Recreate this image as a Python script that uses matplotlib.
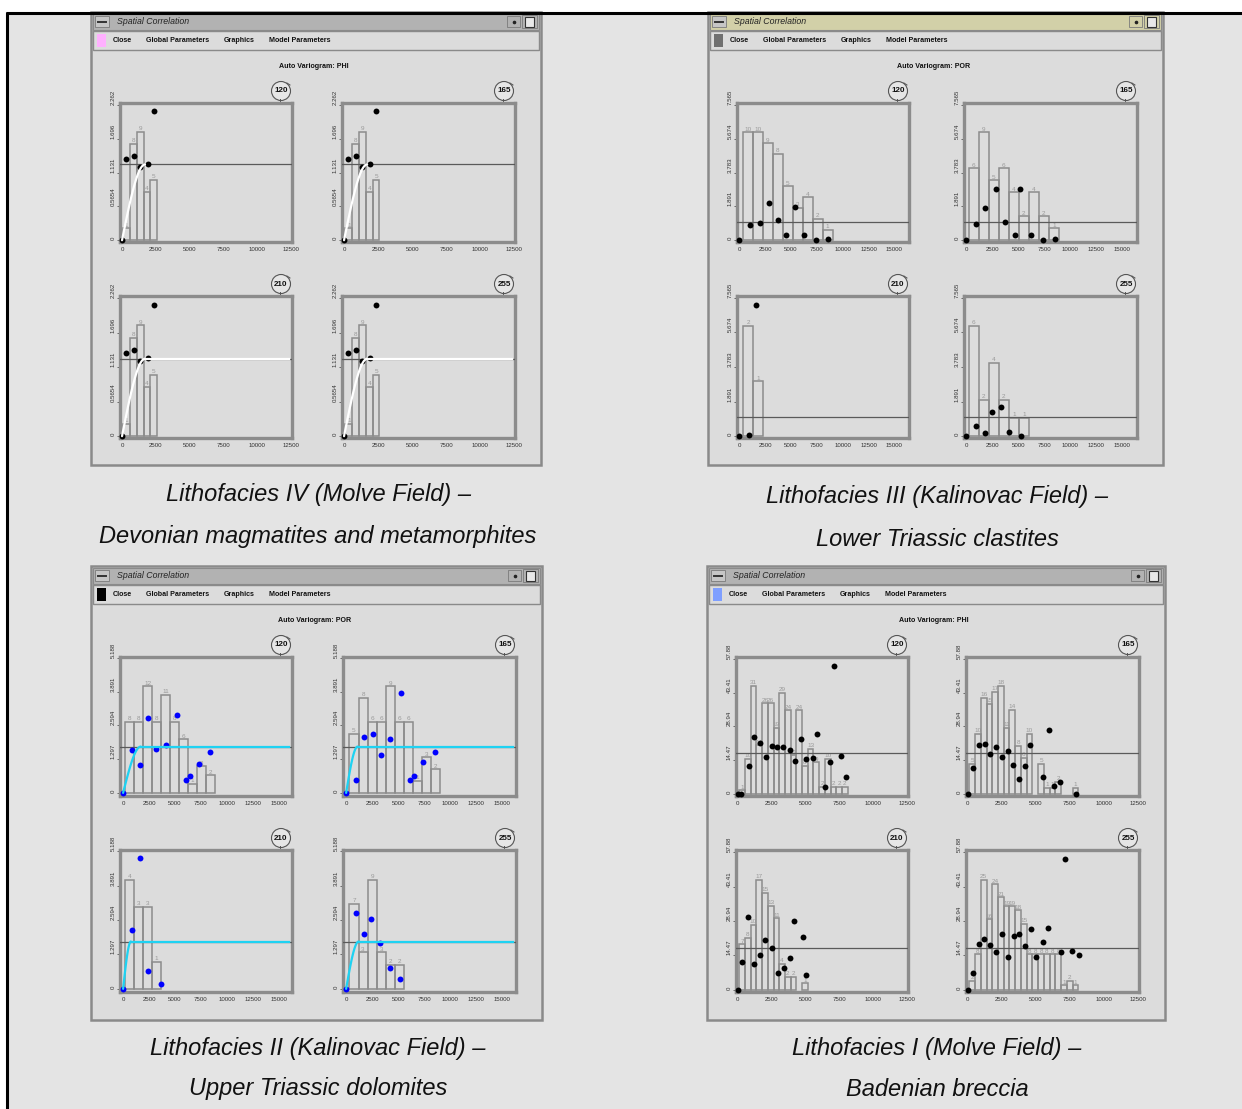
import matplotlib.pyplot as plt
from matplotlib.patches import Rectangle, Circle
import numpy as np

plt.rcParams['font.family'] = ['Liberation Sans', 'DejaVu Sans']

W, H = 1242, 1109

menu_items = ['Close', 'Global Parameters', 'Graphics', 'Model Parameters']
menu_x = [31.5, 86.5, 148.5, 209]
directions = ['120', '165', '210', '255']

# ---------------- Lithofacies IV (Molve Field), PHI -----------------
iv_yticks = [0, 0.5654, 1.131, 1.696, 2.262]
iv_ylabels = ['0', '0.5654', '1.131', '1.696', '2.262']
iv_xticks = [0, 2500, 5000, 7500, 10000, 12500]
iv_counts = [1, 8, 9, 4, 5]
iv_px = [0, 270, 880, 1300, 1910, 2350]
iv_py = [0, 1.36, 1.41, 1.23, 1.28, 2.16]
iv_bar_max = 1.82
iv_sill = 1.27
iv_range = 1700

# ---------------- Lithofacies III (Kalinovac Field), POR ------------
iii_yticks = [0, 1.891, 3.783, 5.674, 7.565]
iii_ylabels = ['0', '1.891', '3.783', '5.674', '7.565']
iii_xticks = [0, 2500, 5000, 7500, 10000, 12500, 15000]
iii_bar_max = 6.02
iii_sill = 1.03
iii_120_counts = [10, 10, 9, 8, 5, 3, 4, 2, 1]
iii_120_px = [0, 1054, 2013, 2843, 3802, 4569, 5367, 6230, 7444, 8594]
iii_120_py = [0, 0.84, 0.97, 2.11, 1.16, 0.28, 1.87, 0.28, 0.02, 0.07]
iii_165_counts = [6, 9, 5, 6, 4, 2, 4, 2, 1]
iii_165_px = [0, 990, 1853, 2875, 3770, 4665, 5208, 6262, 7348, 8498]
iii_165_py = [0, 0.92, 1.79, 2.84, 1.03, 0.28, 2.84, 0.28, 0.0, 0.09]
iii_210_counts = [2, 1]
iii_210_px = [0, 990, 1600]
iii_210_py = [0, 0.07, 7.16]
iii_255_counts = [6, 2, 4, 2, 1, 1]
iii_255_px = [0, 990, 1853, 2492, 3387, 4089, 5304]
iii_255_py = [0, 0.54, 0.17, 1.35, 1.60, 0.26, 0.0]

# ---------------- Lithofacies II (Kalinovac Field), POR -------------
ii_yticks = [0, 1.297, 2.594, 3.891, 5.188]
ii_ylabels = ['0', '1.297', '2.594', '3.891', '5.188']
ii_xticks = [0, 2500, 5000, 7500, 10000, 12500, 15000]
ii_bar_max = 4.11
ii_sill = 1.78
ii_120_counts = [8, 8, 12, 8, 11, 8, 6, 1, 3, 2]
ii_120_px = [0, 900, 1635, 2372, 3173, 4167, 5160, 6090, 6410, 7308, 8365]
ii_120_py = [0, 1.65, 1.09, 2.90, 1.69, 1.84, 2.98, 0.51, 0.65, 1.12, 1.59]
ii_120_range = 1700
ii_165_counts = [5, 8, 6, 6, 9, 6, 6, 1, 3, 2]
ii_165_px = [0, 960, 1700, 2570, 3370, 4200, 5290, 6090, 6500, 7400, 8490]
ii_165_py = [0, 0.48, 2.16, 2.28, 1.45, 2.07, 3.85, 0.51, 0.65, 1.17, 1.59]
ii_165_range = 1100
ii_210_counts = [4, 3, 3, 1]
ii_210_px = [0, 870, 1670, 2370, 3620]
ii_210_py = [0, 2.20, 4.91, 0.68, 0.19]
ii_210_range = 750
ii_255_counts = [7, 3, 9, 3, 2, 2]
ii_255_px = [0, 960, 1700, 2370, 3240, 4170, 5130]
ii_255_py = [0, 2.84, 2.08, 2.62, 1.74, 0.80, 0.36]
ii_255_range = 1200

# ---------------- Lithofacies I (Molve Field), PHI ------------------
i_yticks = [0, 14.47, 28.94, 43.41, 57.88]
i_ylabels = ['0', '14.47', '28.94', '43.41', '57.88']
i_xticks = [0, 2500, 5000, 7500, 10000, 12500]
i_bar_max = 46.3
i_sill = 17.7
i_120_counts = [1, 10, 31, 14, 26, 26, 19, 29, 24, 11, 24, 8, 13, 9, 2, 10, 2, 2, 2]
i_120_px = [0, 284, 837, 1242, 1674, 2105, 2537, 2916, 3347, 3832, 4232, 4663,
            5074, 5547, 5863, 6410, 6821, 7126, 7653, 8010]
i_120_py = [0, 0, 11.7, 24.4, 21.6, 15.7, 20.6, 20.2, 20.1, 18.8, 14.1, 23.4,
            14.8, 15.3, 25.6, 2.8, 13.8, 55.1, 16.0, 7.2]
i_165_counts = [5, 10, 16, 15, 17, 18, 11, 14, 8, 6, 10, 0, 5, 1, 1, 2, 0, 0, 1]
i_165_px = [0, 358, 842, 1242, 1674, 2084, 2516, 2947, 3347, 3779, 4232, 4547,
            5547, 5937, 6337, 6747, 7947]
i_165_py = [0, 11.0, 20.8, 21.2, 16.9, 19.9, 15.7, 18.5, 12.4, 6.1, 11.7, 20.9,
            7.3, 27.3, 3.2, 5.1, 0]
i_210_counts = [7, 8, 10, 17, 15, 13, 11, 4, 2, 2, 0, 1]
i_210_px = [0, 358, 789, 1242, 1653, 2053, 2516, 2968, 3400, 3853, 4137, 4789, 5053]
i_210_py = [0, 11.6, 30.5, 10.7, 14.5, 20.9, 17.7, 6.8, 9.2, 13.4, 29.0, 22.3, 6.1]
i_255_counts = [2, 8, 25, 16, 24, 21, 19, 19, 18, 15, 8, 8, 8, 8, 8, 8, 1, 2, 1]
i_255_px = [0, 358, 811, 1200, 1674, 2084, 2484, 2947, 3368, 3800, 4232, 4663,
            5021, 5505, 5863, 6842, 7126, 7653, 8137]
i_255_py = [0, 7.2, 19.3, 21.3, 18.6, 15.9, 23.3, 13.6, 22.7, 23.6, 18.2, 25.4,
            13.6, 19.9, 25.8, 15.9, 55.2, 16.2, 14.5]

captions = [
    ('Lithofacies IV (Molve Field) \u2013', 'Devonian magmatites and metamorphites'),
    ('Lithofacies III (Kalinovac Field) \u2013', 'Lower Triassic clastites'),
    ('Lithofacies II (Kalinovac Field) \u2013', 'Upper Triassic dolomites'),
    ('Lithofacies I (Molve Field) \u2013', 'Badenian breccia'),
]

fig = plt.figure(figsize=(W / 100, H / 100), dpi=100)
fig.patch.set_facecolor('white')
bg = fig.add_axes([0, 0, 1, 1])
bg.set_xlim(0, W)
bg.set_ylim(H, 0)
bg.axis('off')

# page frame
bg.add_patch(Rectangle((7, 13), W - 7, H - 13, fc='#e4e4e4', ec='none'))
bg.plot([6, W], [12.5, 12.5], color='black', lw=2.2, solid_capstyle='butt')
bg.plot([7, 7], [12, H], color='black', lw=2.2, solid_capstyle='butt')


def window(x0, y0, w, h, bar_color, swatch, variable):
    bg.add_patch(Rectangle((x0, y0), w, h, fc='#dcdcdc', ec='#8a8a8a', lw=1.8))
    bg.add_patch(Rectangle((x0 + 2, y0 + 1.5), w - 4, 16, fc=bar_color, ec='#8a8a8a', lw=0.8))
    bg.add_patch(Rectangle((x0 + 4, y0 + 4), 14, 11, fc='#c6c6c6', ec='#7a7a7a', lw=0.6))
    bg.plot([x0 + 7, x0 + 15], [y0 + 9.5, y0 + 9.5], color='#333333', lw=1.4)
    bg.text(x0 + 26, y0 + 9.8, 'Spatial Correlation', style='italic', fontsize=6.3,
            color='#222222', va='center')
    bg.add_patch(Rectangle((x0 + w - 34, y0 + 4), 13, 11, fc=bar_color, ec='#7a7a7a', lw=0.6))
    bg.plot([x0 + w - 27.5], [y0 + 9.5], 'o', color='#222222', ms=1.6)
    bg.add_patch(Rectangle((x0 + w - 19, y0 + 3), 15, 13, fc=bar_color, ec='#7a7a7a', lw=0.6))
    bg.add_patch(Rectangle((x0 + w - 16, y0 + 5), 9, 9.5, fc='#e8e8e8', ec='#333333', lw=0.8))
    # menu bar
    bg.add_patch(Rectangle((x0 + 2, y0 + 19), w - 4, 19, fc='#dcdcdc', ec='#8a8a8a', lw=1.0))
    bg.add_patch(Rectangle((x0 + 6, y0 + 22), 9, 13, fc=swatch, ec='none'))
    for label, cx in zip(menu_items, menu_x):
        bg.text(x0 + cx, y0 + 28.5, label, fontsize=5.1, weight='bold', ha='center',
                va='center', color='#111111')
    bg.text(x0 + w / 2 - 2, y0 + 55, 'Auto Variogram: ' + variable, fontsize=5.1,
            weight='bold', ha='center', va='center', color='#111111')


def variogram(box, direction, xlim, ylim, xticks, yticks, ylabels, lag0, lagw, counts,
              bar_max, px, py, sill, dot_color, model_range=None, model_color=None,
              model_full=False):
    left, top, aw, ah = box
    ax = fig.add_axes([left / W, 1 - (top + ah) / H, aw / W, ah / H])
    ax.set_facecolor('none')
    ax.set_xlim(*xlim)
    ax.set_ylim(*ylim)
    heights = np.array(counts) / max(counts) * bar_max
    for i, (hgt, c) in enumerate(zip(heights, counts)):
        if c == 0:
            continue
        x = lag0 + i * lagw
        ax.add_patch(Rectangle((x, 0), lagw, hgt, fill=False, ec='#8c8c8c', lw=1.1, zorder=2))
        ax.text(x + lagw / 2, hgt + (ylim[1] - ylim[0]) * 0.004, str(c), fontsize=4.6,
                color='#9a9a9a', ha='center', va='bottom', zorder=2)
    ax.axhline(sill, color='#5a5a5a', lw=0.9, zorder=3)
    ax.scatter(px, py, s=18, color=dot_color, zorder=4, clip_on=False, lw=0)
    if model_range is not None:
        hh = np.linspace(0, model_range, 60)
        g = sill * (1.5 * hh / model_range - 0.5 * (hh / model_range) ** 3)
        ax.plot(hh, g, color=model_color, lw=1.6, zorder=5, solid_capstyle='round')
        if model_full:
            ax.plot([model_range, xlim[1] * 0.985], [sill, sill], color=model_color,
                    lw=1.6, zorder=5)
    for sp in ax.spines.values():
        sp.set_color('#8c8c8c')
        sp.set_linewidth(2.4)
    ax.set_xticks(xticks)
    ax.set_xticklabels([str(t) for t in xticks])
    ax.set_yticks(yticks)
    ax.set_yticklabels(ylabels, rotation=90, va='bottom', ha='center')
    ax.tick_params(axis='x', length=0, pad=3.5, labelsize=4.4, labelcolor='#333333')
    ax.tick_params(axis='y', length=2.2, width=0.6, color='#555555', pad=2.5,
                   labelsize=4.4, labelcolor='#333333')
    # direction dial
    cx, cy = left + aw - 11, top - 12
    bg.add_patch(Circle((cx, cy), 9.5, fc='#e6e6e6', ec='#555555', lw=0.8, zorder=6))
    bg.plot([cx + 6, cx + 9], [cy - 8, cy - 6], color='#555555', lw=0.7, zorder=6)
    bg.plot([cx - 1, cx - 1], [cy + 8, cy + 12], color='#555555', lw=0.7, zorder=6)
    bg.text(cx, cy, direction, fontsize=5.8, weight='bold', ha='center', va='center',
            color='#111111', zorder=7)
    return ax


def boxes(x0, y0, w):
    cols = [x0 + 29, x0 + w - 199]
    rows = [(y0 + 91, 139), (y0 + 284, 142)]
    return [(cols[0], rows[0][0], 172, rows[0][1]), (cols[1], rows[0][0], 173, rows[0][1]),
            (cols[0], rows[1][0], 172, rows[1][1]), (cols[1], rows[1][0], 173, rows[1][1])]


# ---- window A : Lithofacies IV
wa = (91, 12, 450, 453)
window(*wa, '#b2b2b2', '#ffb0ff', 'PHI')
for k, b in enumerate(boxes(wa[0], wa[1], wa[2])):
    variogram(b, directions[k], (-150, 12560), (-0.03, 2.30), iv_xticks, iv_yticks,
              iv_ylabels, 100, 500, iv_counts, iv_bar_max, iv_px, iv_py, iv_sill, 'black',
              iv_range, 'white', model_full=(k >= 2))

# ---- window B : Lithofacies III
wb = (708, 12, 455, 453)
window(*wb, '#d2d0a8', '#707070', 'POR')
iii_sets = [(iii_120_counts, iii_120_px, iii_120_py, 380),
            (iii_165_counts, iii_165_px, iii_165_py, 260),
            (iii_210_counts, iii_210_px, iii_210_py, 380),
            (iii_255_counts, iii_255_px, iii_255_py, 260)]
for k, b in enumerate(boxes(wb[0], wb[1], wb[2])):
    c, px, py, l0 = iii_sets[k]
    variogram(b, directions[k], (-200, 16400), (-0.09, 7.66), iii_xticks, iii_yticks,
              iii_ylabels, l0, 960, c, iii_bar_max, px, py, iii_sill, 'black')

# ---- window C : Lithofacies II
wc = (91, 566, 451, 454)
window(*wc, '#b2b2b2', '#000000', 'POR')
ii_sets = [(ii_120_counts, ii_120_px, ii_120_py, 190, ii_120_range),
           (ii_165_counts, ii_165_px, ii_165_py, 320, ii_165_range),
           (ii_210_counts, ii_210_px, ii_210_py, 190, ii_210_range),
           (ii_255_counts, ii_255_px, ii_255_py, 320, ii_255_range)]
for k, b in enumerate(boxes(wc[0], wc[1], wc[2])):
    c, px, py, l0, rg = ii_sets[k]
    variogram(b, directions[k], (-300, 16300), (-0.12, 5.23), ii_xticks, ii_yticks,
              ii_ylabels, l0, 868, c, ii_bar_max, px, py, ii_sill, '#0000ff',
              rg, '#1ed2f2', model_full=True)

# ---- window D : Lithofacies I
wd = (707, 566, 458, 454)
window(*wd, '#b2b2b2', '#7f9fff', 'PHI')
i_sets = [(i_120_counts, i_120_px, i_120_py), (i_165_counts, i_165_px, i_165_py),
          (i_210_counts, i_210_px, i_210_py), (i_255_counts, i_255_px, i_255_py)]
for k, b in enumerate(boxes(wd[0], wd[1], wd[2])):
    c, px, py = i_sets[k]
    variogram(b, directions[k], (-120, 12560), (-1.0, 58.8), i_xticks, i_yticks,
              i_ylabels, 120, 421, c, i_bar_max, px, py, i_sill, 'black')

# captions
cap_pos = [(318, 494, 536), (937, 497, 539), (318, 1048, 1089), (937, 1048, 1089)]
for (l1, l2), (cx, y1, y2) in zip(captions, cap_pos):
    bg.text(cx, y1, l1, style='italic', fontsize=17, ha='center', va='center', color='#111111')
    bg.text(cx, y2, l2, style='italic', fontsize=17, ha='center', va='center', color='#111111')

fig.savefig('out.png', dpi=100)
